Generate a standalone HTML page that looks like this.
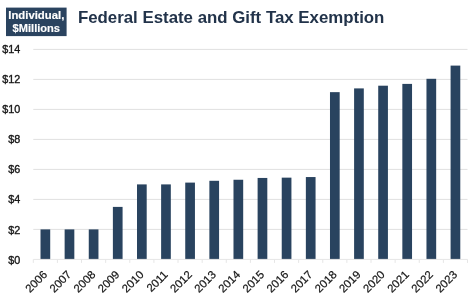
<!DOCTYPE html>
<html><head><meta charset="utf-8"><style>
html,body{margin:0;padding:0;background:#fff;width:474px;height:306px;overflow:hidden}
svg{display:block;will-change:transform}
text{font-family:"Liberation Sans",sans-serif}
</style></head><body>
<svg width="474" height="306" viewBox="0 0 474 306">
<rect x="6" y="7.6" width="60.6" height="28.5" fill="#2a435f"/>
<g fill="#fff" stroke="#fff" stroke-width="0.15" font-weight="bold" font-size="10.8" text-anchor="middle">
<text x="36.3" y="18.8" textLength="56" lengthAdjust="spacingAndGlyphs">Individual,</text>
<text x="36.3" y="32.0" textLength="47.5" lengthAdjust="spacingAndGlyphs">$Millions</text>
</g>
<text x="77.9" y="23.4" font-size="16.2" font-weight="bold" fill="#22334a" textLength="306.5" lengthAdjust="spacingAndGlyphs">Federal Estate and Gift Tax Exemption</text>
<g stroke="#e0e0e0" stroke-width="1"><line x1="33.3" y1="229.40" x2="467.5" y2="229.40"/><line x1="33.3" y1="199.40" x2="467.5" y2="199.40"/><line x1="33.3" y1="169.40" x2="467.5" y2="169.40"/><line x1="33.3" y1="139.40" x2="467.5" y2="139.40"/><line x1="33.3" y1="109.40" x2="467.5" y2="109.40"/><line x1="33.3" y1="79.40" x2="467.5" y2="79.40"/><line x1="33.3" y1="49.40" x2="467.5" y2="49.40"/></g>
<g fill="#29435f"><rect x="40.51" y="229.40" width="9.7" height="30.00"/><rect x="64.63" y="229.40" width="9.7" height="30.00"/><rect x="88.76" y="229.40" width="9.7" height="30.00"/><rect x="112.88" y="206.90" width="9.7" height="52.50"/><rect x="137.00" y="184.40" width="9.7" height="75.00"/><rect x="161.12" y="184.40" width="9.7" height="75.00"/><rect x="185.24" y="182.60" width="9.7" height="76.80"/><rect x="209.37" y="180.80" width="9.7" height="78.60"/><rect x="233.49" y="179.75" width="9.7" height="79.65"/><rect x="257.61" y="177.95" width="9.7" height="81.45"/><rect x="281.73" y="177.65" width="9.7" height="81.75"/><rect x="305.86" y="177.05" width="9.7" height="82.35"/><rect x="329.98" y="92.15" width="9.7" height="167.25"/><rect x="354.10" y="88.40" width="9.7" height="171.00"/><rect x="378.22" y="85.70" width="9.7" height="173.70"/><rect x="402.34" y="83.90" width="9.7" height="175.50"/><rect x="426.47" y="78.80" width="9.7" height="180.60"/><rect x="450.59" y="65.60" width="9.7" height="193.80"/></g>
<g stroke="#e6e6e6" stroke-width="1"><line x1="33.3" y1="259.4" x2="467.5" y2="259.4"/><line x1="33.30" y1="259.4" x2="33.30" y2="262.9"/><line x1="57.42" y1="259.4" x2="57.42" y2="262.9"/><line x1="81.54" y1="259.4" x2="81.54" y2="262.9"/><line x1="105.67" y1="259.4" x2="105.67" y2="262.9"/><line x1="129.79" y1="259.4" x2="129.79" y2="262.9"/><line x1="153.91" y1="259.4" x2="153.91" y2="262.9"/><line x1="178.03" y1="259.4" x2="178.03" y2="262.9"/><line x1="202.16" y1="259.4" x2="202.16" y2="262.9"/><line x1="226.28" y1="259.4" x2="226.28" y2="262.9"/><line x1="250.40" y1="259.4" x2="250.40" y2="262.9"/><line x1="274.52" y1="259.4" x2="274.52" y2="262.9"/><line x1="298.64" y1="259.4" x2="298.64" y2="262.9"/><line x1="322.77" y1="259.4" x2="322.77" y2="262.9"/><line x1="346.89" y1="259.4" x2="346.89" y2="262.9"/><line x1="371.01" y1="259.4" x2="371.01" y2="262.9"/><line x1="395.13" y1="259.4" x2="395.13" y2="262.9"/><line x1="419.26" y1="259.4" x2="419.26" y2="262.9"/><line x1="443.38" y1="259.4" x2="443.38" y2="262.9"/><line x1="467.50" y1="259.4" x2="467.50" y2="262.9"/></g>
<g font-size="10.8" fill="#161616" stroke="#161616" stroke-width="0.35" text-anchor="end"><text x="20.2" y="263.60">$0</text><text x="20.2" y="233.50">$2</text><text x="20.2" y="203.40">$4</text><text x="20.2" y="173.30">$6</text><text x="20.2" y="143.20">$8</text><text x="20.2" y="113.10">$10</text><text x="20.2" y="83.00">$12</text><text x="20.2" y="52.90">$14</text></g>
<g font-size="11.3" fill="#161616" stroke="#161616" stroke-width="0.22" text-anchor="end"><text transform="translate(47.86,275.40) rotate(-45)">2006</text><text transform="translate(71.98,275.40) rotate(-45)">2007</text><text transform="translate(96.11,275.40) rotate(-45)">2008</text><text transform="translate(120.23,275.40) rotate(-45)">2009</text><text transform="translate(144.35,275.40) rotate(-45)">2010</text><text transform="translate(168.47,275.40) rotate(-45)">2011</text><text transform="translate(192.59,275.40) rotate(-45)">2012</text><text transform="translate(216.72,275.40) rotate(-45)">2013</text><text transform="translate(240.84,275.40) rotate(-45)">2014</text><text transform="translate(264.96,275.40) rotate(-45)">2015</text><text transform="translate(289.08,275.40) rotate(-45)">2016</text><text transform="translate(313.21,275.40) rotate(-45)">2017</text><text transform="translate(337.33,275.40) rotate(-45)">2018</text><text transform="translate(361.45,275.40) rotate(-45)">2019</text><text transform="translate(385.57,275.40) rotate(-45)">2020</text><text transform="translate(409.69,275.40) rotate(-45)">2021</text><text transform="translate(433.82,275.40) rotate(-45)">2022</text><text transform="translate(457.94,275.40) rotate(-45)">2023</text></g>
</svg>
</body></html>
